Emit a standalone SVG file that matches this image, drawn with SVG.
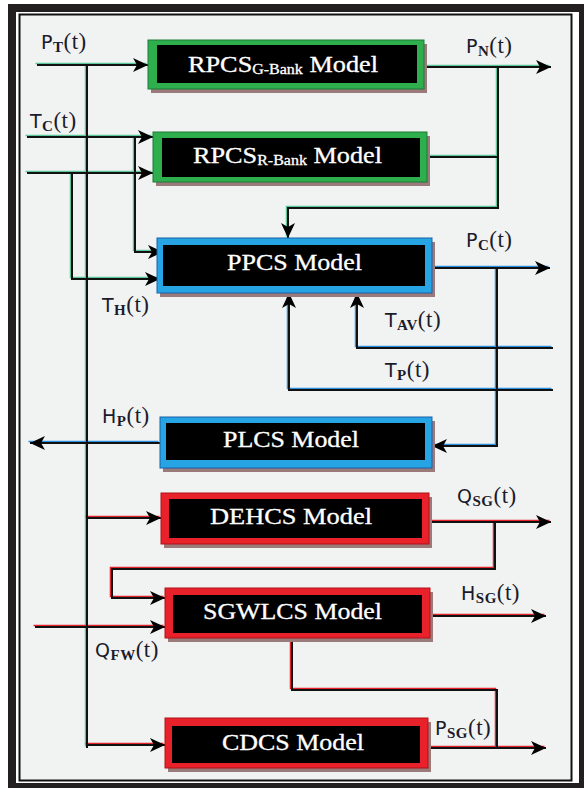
<svg xmlns="http://www.w3.org/2000/svg" xmlns:xlink="http://www.w3.org/1999/xlink" width="584" height="788" viewBox="0 0 584 788">
<style>
.box-in{fill:#000}
.sh{fill:#9a7a7a}
.g{fill:#2fae4e;stroke:#1c7a36;stroke-width:1}
.b{fill:#27a4e4;stroke:#1a5fa8;stroke-width:1}
.r{fill:#e8212b;stroke:#b01218;stroke-width:1}
.t{font-family:"Liberation Serif","Times New Roman",serif;font-size:23px;fill:#fff;stroke:#fff;stroke-width:0.3}
.sub{font-size:14px}
.lbl{font-family:"Liberation Serif","Times New Roman",serif;font-size:23px;fill:#1b1b2b;letter-spacing:0.5px}
.lm{font-family:"DejaVu Sans","Liberation Sans",sans-serif;font-size:19px}
.ls{font-size:15px;font-weight:bold}
.k{fill:none;stroke:#111;stroke-width:2}
.cg{fill:none;stroke:#5cc79a;stroke-width:1.5}
.cb{fill:none;stroke:#2b8fe0;stroke-width:1.5}
.cr{fill:none;stroke:#e3232b;stroke-width:1.5}
</style>
<defs>
<marker id="ah" markerUnits="userSpaceOnUse" markerWidth="16" markerHeight="14" refX="15" refY="7" orient="auto">
<path d="M0,0 L15,7 L0,14 L4,7 Z" fill="#000"/>
</marker>
</defs>
<rect x="8" y="4" width="576" height="784" fill="#231f20"/>
<rect x="16" y="12" width="563" height="771" fill="#fff"/>
<rect x="19.5" y="14.5" width="552" height="766" fill="#f1f3f3" stroke="#111" stroke-width="2"/>

<g id="connectors">
<g transform="translate(-1.5,-1.5)">
<path class="cg" d="M37,65 H148"/>
<path class="cg" d="M87,65 V748"/>
<path class="cg" d="M27,137 H153"/>
<path class="cg" d="M135,137 V252 H163"/>
<path class="cg" d="M27,173 H153"/>
<path class="cg" d="M72,173 V279 H160"/>
<path class="cg" d="M424,67 H551"/>
<path class="cg" d="M427,157 H498"/>
<path class="cg" d="M498,67 V208 H288 V238"/>
<path class="cb" d="M432,268 H550"/>
<path class="cb" d="M497,268 V446 H432"/>
<path class="cb" d="M553,348 H357 V293"/>
<path class="cb" d="M553,390 H289 V293"/>
<path class="cb" d="M160,443 H30"/>
<path class="cr" d="M87,518 H161"/>
<path class="cr" d="M87,745 H165"/>
<path class="cr" d="M429,522 H551"/>
<path class="cr" d="M495,522 V569 H112 V598 H165"/>
<path class="cr" d="M35,627 H165"/>
<path class="cr" d="M430,616 H546"/>
<path class="cr" d="M292,638 V690 H497 V748"/>
<path class="cr" d="M428,748 H546"/>
</g>
<path class="k" d="M37,65 H148" marker-end="url(#ah)"/>
<path class="k" d="M87,65 V748"/>
<path class="k" d="M27,137 H153" marker-end="url(#ah)"/>
<path class="k" d="M135,137 V252 H163" marker-end="url(#ah)"/>
<path class="k" d="M27,173 H153" marker-end="url(#ah)"/>
<path class="k" d="M72,173 V279 H160" marker-end="url(#ah)"/>
<path class="k" d="M424,67 H551" marker-end="url(#ah)"/>
<path class="k" d="M427,157 H498"/>
<path class="k" d="M498,67 V208 H288 V238" marker-end="url(#ah)"/>
<path class="k" d="M432,268 H550" marker-end="url(#ah)"/>
<path class="k" d="M497,268 V446 H432" marker-end="url(#ah)"/>
<path class="k" d="M553,348 H357 V293" marker-end="url(#ah)"/>
<path class="k" d="M553,390 H289 V293" marker-end="url(#ah)"/>
<path class="k" d="M160,443 H30" marker-end="url(#ah)"/>
<path class="k" d="M87,518 H161" marker-end="url(#ah)"/>
<path class="k" d="M87,745 H165" marker-end="url(#ah)"/>
<path class="k" d="M429,522 H551" marker-end="url(#ah)"/>
<path class="k" d="M495,522 V569 H112 V598 H165" marker-end="url(#ah)"/>
<path class="k" d="M35,627 H165" marker-end="url(#ah)"/>
<path class="k" d="M430,616 H546" marker-end="url(#ah)"/>
<path class="k" d="M292,638 V690 H497 V748"/>
<path class="k" d="M428,748 H546" marker-end="url(#ah)"/>
</g>

<g id="rpcs-g">
<rect class="sh" x="151" y="44" width="276" height="49"/>
<rect class="g" x="148" y="40" width="276" height="49"/>
<rect class="box-in" x="157" y="45" width="260" height="38"/>
<text class="t" x="188" y="72" textLength="190" lengthAdjust="spacingAndGlyphs">RPCS<tspan class="sub" dy="2">G-Bank</tspan><tspan dy="-2"> Model</tspan></text>
</g>
<g id="rpcs-r">
<rect class="sh" x="156" y="136" width="274" height="50"/>
<rect class="g" x="153" y="132" width="274" height="50"/>
<rect class="box-in" x="162" y="138" width="258" height="39"/>
<text class="t" x="193" y="163" textLength="189" lengthAdjust="spacingAndGlyphs">RPCS<tspan class="sub" dy="2">R-Bank</tspan><tspan dy="-2"> Model</tspan></text>
</g>
<g id="ppcs">
<rect class="sh" x="160" y="242" width="275" height="55" fill="#7a8aa0"/>
<rect class="b" x="157" y="238" width="275" height="55"/>
<rect class="box-in" x="163" y="245" width="262" height="41"/>
<text class="t" x="227" y="270" textLength="135" lengthAdjust="spacingAndGlyphs">PPCS Model</text>
</g>
<g id="plcs">
<rect class="sh" x="163" y="421" width="272" height="51"/>
<rect class="b" x="160" y="417" width="272" height="51"/>
<rect class="box-in" x="166" y="423" width="259" height="37"/>
<text class="t" x="223" y="447" textLength="136" lengthAdjust="spacingAndGlyphs">PLCS Model</text>
</g>
<g id="dehcs">
<rect class="sh" x="164" y="497" width="268" height="51" fill="#bbb"/>
<rect class="r" x="161" y="493" width="268" height="51"/>
<rect class="box-in" x="169" y="499" width="253" height="39"/>
<text class="t" x="210" y="524" textLength="162" lengthAdjust="spacingAndGlyphs">DEHCS Model</text>
</g>
<g id="sgwlcs">
<rect class="sh" x="168" y="592" width="265" height="50" fill="#bbb"/>
<rect class="r" x="165" y="588" width="265" height="50"/>
<rect class="box-in" x="173" y="595" width="249" height="38"/>
<text class="t" x="203" y="619" textLength="179" lengthAdjust="spacingAndGlyphs">SGWLCS Model</text>
</g>
<g id="cdcs">
<rect class="sh" x="168" y="722" width="263" height="50" fill="#bbb"/>
<rect class="r" x="165" y="718" width="263" height="50"/>
<rect class="box-in" x="172" y="726" width="248" height="37"/>
<text class="t" x="222" y="750" textLength="142" lengthAdjust="spacingAndGlyphs">CDCS Model</text>
</g>

<g id="labels">
<text class="lbl" x="41" y="49"><tspan class="lm">P</tspan><tspan class="ls" dy="3">T</tspan><tspan dy="-3">(t)</tspan></text>
<text class="lbl" x="30" y="128"><tspan class="lm">T</tspan><tspan class="ls" dy="3">C</tspan><tspan dy="-3">(t)</tspan></text>
<text class="lbl" x="466" y="53"><tspan class="lm">P</tspan><tspan class="ls" dy="3">N</tspan><tspan dy="-3">(t)</tspan></text>
<text class="lbl" x="466" y="247"><tspan class="lm">P</tspan><tspan class="ls" dy="3">C</tspan><tspan dy="-3">(t)</tspan></text>
<text class="lbl" x="102" y="312"><tspan class="lm">T</tspan><tspan class="ls" dy="3">H</tspan><tspan dy="-3">(t)</tspan></text>
<text class="lbl" x="385" y="327"><tspan class="lm">T</tspan><tspan class="ls" dy="3">AV</tspan><tspan dy="-3">(t)</tspan></text>
<text class="lbl" x="385" y="377"><tspan class="lm">T</tspan><tspan class="ls" dy="3">P</tspan><tspan dy="-3">(t)</tspan></text>
<text class="lbl" x="102" y="423"><tspan class="lm">H</tspan><tspan class="ls" dy="3">P</tspan><tspan dy="-3">(t)</tspan></text>
<text class="lbl" x="457" y="503"><tspan class="lm">Q</tspan><tspan class="ls" dy="3">SG</tspan><tspan dy="-3">(t)</tspan></text>
<text class="lbl" x="461" y="600"><tspan class="lm">H</tspan><tspan class="ls" dy="3">SG</tspan><tspan dy="-3">(t)</tspan></text>
<text class="lbl" x="95" y="657"><tspan class="lm">Q</tspan><tspan class="ls" dy="3">FW</tspan><tspan dy="-3">(t)</tspan></text>
<text class="lbl" x="435" y="735"><tspan class="lm">P</tspan><tspan class="ls" dy="3">SG</tspan><tspan dy="-3">(t)</tspan></text>
</g>
</svg>
